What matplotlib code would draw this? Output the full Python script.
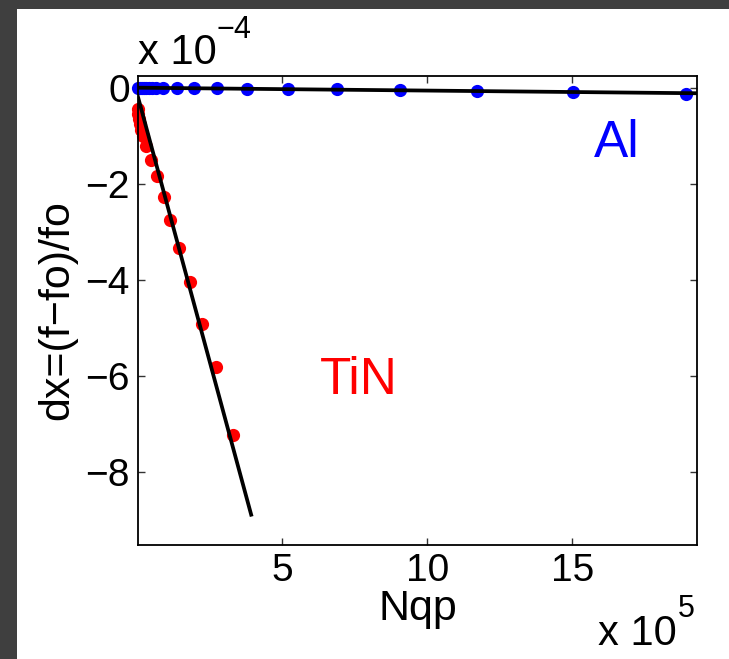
import matplotlib
matplotlib.use("Agg")
import matplotlib.pyplot as plt
import numpy as np
from matplotlib.patches import Rectangle

plt.rcParams["font.family"] = ["Liberation Sans", "DejaVu Sans"]
plt.rcParams["axes.unicode_minus"] = True

# Nqp in units of 1e5, dx in units of 1e-4
al_nqp = [0.02, 0.09, 0.16, 0.22, 0.31, 0.40, 0.50, 0.64, 0.87, 1.35,
          1.96, 2.73, 3.79, 5.18, 6.88, 9.07, 11.71, 15.02, 18.92]
al_dx = [0.0, 0.0, 0.0, 0.0, 0.0, -0.005, -0.005, -0.005, -0.01, -0.01,
         -0.01, -0.015, -0.02, -0.03, -0.035, -0.05, -0.06, -0.09, -0.14]

tin_nqp = [0.01, 0.03, 0.05, 0.08, 0.12, 0.19, 0.29, 0.47, 0.66, 0.90,
           1.14, 1.44, 1.81, 2.23, 2.71, 3.28]
tin_dx = [-0.44, -0.55, -0.65, -0.76, -0.88, -1.01, -1.21, -1.51, -1.85,
          -2.27, -2.76, -3.35, -4.05, -4.92, -5.83, -7.24]

# linear fits: dx = intercept + slope * Nqp
al_fit = (0.0, -0.006)
tin_fit = (-0.15, -2.23)
al_fit_range = (0.0, 19.3)
tin_fit_range = (0.0, 3.94)

W, H = 729, 659
fig = plt.figure(figsize=(W / 100, H / 100), dpi=100)
fig.patch.set_facecolor("#3f3f3f")
fig.patches.append(Rectangle((17 / W, 0), 1, 1 - 9 / H, transform=fig.transFigure,
                             facecolor="white", edgecolor="none", zorder=-10))

ax = fig.add_axes([138.3 / W, 1 - 545 / H, (697 - 138.3) / W, (545 - 75.7) / H])

for rng, (b, m) in [(al_fit_range, al_fit), (tin_fit_range, tin_fit)]:
    xs = np.array(rng)
    ax.plot(xs, b + m * xs, color="black", lw=2.7, zorder=3, solid_capstyle="butt")

ax.plot(al_nqp, al_dx, "o", color="#0000ff", ms=9.5, mec="none", clip_on=False, zorder=2)
ax.plot(tin_nqp, tin_dx, "o", color="#ff0000", ms=9.5, mec="none", clip_on=False, zorder=2)

ax.set_xlim(0.03, 19.3)
ax.set_ylim(-9.53, 0.25)
ax.set_xticks([5, 10, 15])
ax.set_yticks([-8, -6, -4, -2, 0])
ax.tick_params(direction="in", length=5, width=1, color="#333333",
               top=True, right=True, labelsize=28, pad=6)
for s in ax.spines.values():
    s.set_linewidth(1.3)

ax.text(7.64, -6.11, "TiN", color="#ff0000", fontsize=37, ha="center", va="center")
ax.text(16.55, -1.17, "Al", color="#0000ff", fontsize=37, ha="center", va="center")

ax.set_ylabel("dx=(f\u2212fo)/fo", fontsize=31, labelpad=6)
ax.set_xlabel("Nqp", fontsize=31, labelpad=0)

fig.text(138 / W, 1 - 64 / H, "x 10", fontsize=30, ha="left", va="baseline")
fig.text(217 / W, 1 - 38 / H, "\u22124", fontsize=22, ha="left", va="baseline")
fig.text(598 / W, 1 - 645 / H, "x 10", fontsize=30, ha="left", va="baseline")
fig.text(678 / W, 1 - 617 / H, "5", fontsize=22, ha="left", va="baseline")

fig.savefig("out.png", dpi=100, facecolor=fig.get_facecolor())
